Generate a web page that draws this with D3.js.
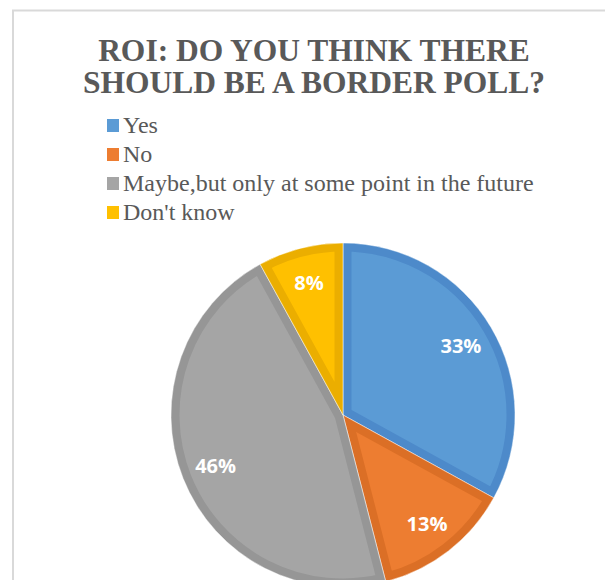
<!DOCTYPE html>
<html>
<head>
<meta charset="utf-8">
<script src="https://cdn.jsdelivr.net/npm/d3@7"></script>
<style>
  html, body { margin: 0; padding: 0; background: #fff; }
  svg { display: block; }
  .serif { font-family: "Liberation Serif", "Times New Roman", serif; }
</style>
</head>
<body>
<div id="chart"></div>
<script>
// Survey answers and their shares
const categories = ["Yes", "No", "Maybe,but only at some point in the future", "Don't know"];
const shares = [33, 13, 46, 8];
const labels = ["33%", "13%", "46%", "8%"];
const titleLines = ["ROI: DO YOU THINK THERE", "SHOULD BE A BORDER POLL?"];

const fills = ["#5B9BD5", "#ED7D31", "#A5A5A5", "#FFC000"];
const edges = ["#4D8ACA", "#DB6F26", "#969696", "#EBAE00"];

const W = 605, H = 580;
const svg = d3.select("#chart").append("svg")
  .attr("width", W).attr("height", H);

// chart frame
svg.append("path")
  .attr("d", `M13,${H + 2} V10.5 H${W + 2}`)
  .attr("fill", "none")
  .attr("stroke", "#D9D9D9")
  .attr("stroke-width", 2);

// title
const title = svg.append("text")
  .attr("class", "serif")
  .attr("text-anchor", "middle")
  .attr("font-weight", "bold")
  .attr("font-size", 31.5)
  .attr("fill", "#595959");
titleLines.forEach((t, i) => {
  title.append("tspan").attr("x", 314).attr("y", 61 + i * 32).text(t);
});

// legend
const legend = svg.append("g").attr("transform", "translate(107,0)");
const rows = legend.selectAll("g").data(categories).join("g")
  .attr("transform", (d, i) => `translate(0,${133 + i * 29})`);
rows.append("rect")
  .attr("x", 0).attr("y", -14).attr("width", 12).attr("height", 13)
  .attr("fill", (d, i) => fills[i]);
rows.append("text")
  .attr("class", "serif")
  .attr("x", 16).attr("y", 0)
  .attr("font-size", 24)
  .attr("fill", "#595959")
  .text(d => d);

// pie
const cx = 343, cy = 415, R = 172;
const pie = d3.pie().sort(null).value(d => d);
const arcs = pie(shares);
const arc = d3.arc().innerRadius(0).outerRadius(R);
const labelArc = d3.arc().innerRadius(137).outerRadius(137);

const g = svg.append("g").attr("transform", `translate(${cx},${cy})`);
const defs = svg.append("defs");
arcs.forEach((a, i) => {
  defs.append("clipPath").attr("id", "slice" + i)
    .append("path").attr("d", arc(a));
});

const slices = g.selectAll("g.slice").data(arcs).join("g").attr("class", "slice");
slices.append("path")
  .attr("d", arc)
  .attr("fill", (d, i) => fills[i])
  .attr("stroke", (d, i) => edges[i])
  .attr("stroke-width", 17)
  .attr("stroke-linejoin", "round")
  .attr("clip-path", (d, i) => `url(#slice${i})`);
slices.append("path")
  .attr("d", arc)
  .attr("fill", "none")
  .attr("stroke", "#ffffff")
  .attr("stroke-opacity", 0.5)
  .attr("stroke-width", 1);

g.selectAll("text.lbl").data(arcs).join("text")
  .attr("class", "lbl")
  .attr("transform", d => `translate(${labelArc.centroid(d)})`)
  .attr("text-anchor", "middle")
  .attr("dy", "0.4em")
  .attr("font-family", "'Open Sans', sans-serif")
  .attr("font-weight", "bold")
  .attr("font-size", 20)
  .attr("fill", "#ffffff")
  .text((d, i) => labels[i]);
</script>
</body>
</html>
